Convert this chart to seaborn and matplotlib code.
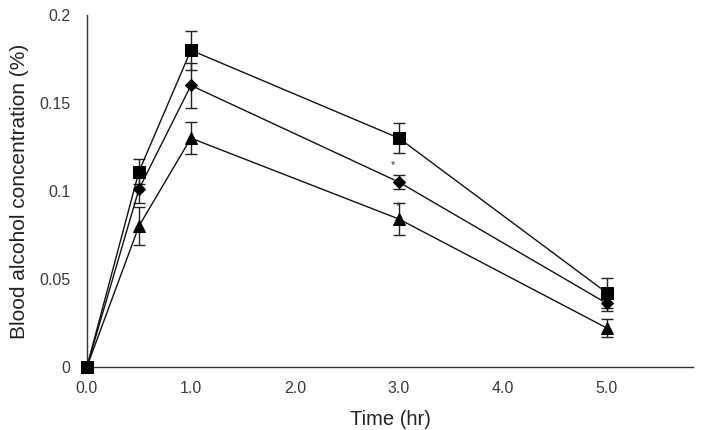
import numpy as np
import pandas as pd
import seaborn as sns
import matplotlib.pyplot as plt

# data
time = [0.0, 0.5, 1.0, 3.0, 5.0]
square = [0.0, 0.111, 0.180, 0.130, 0.042]
square_err = [0.0, 0.007, 0.011, 0.0085, 0.0085]
diamond = [0.0, 0.101, 0.160, 0.105, 0.036]
diamond_err = [0.0, 0.008, 0.013, 0.004, 0.004]
triangle = [0.0, 0.080, 0.130, 0.084, 0.022]
triangle_err = [0.0, 0.011, 0.009, 0.009, 0.005]
xticks = [0.0, 1.0, 2.0, 3.0, 4.0, 5.0]
yticks = [0, 0.05, 0.1, 0.15, 0.2]
ytick_labels = ["0", "0.05", "0.1", "0.15", "0.2"]
stars = [(2.94, 0.1145), (2.99, 0.0915)]

sns.set_style("white")
plt.rcParams['font.family'] = ['Liberation Sans', 'DejaVu Sans']

fig = plt.figure(figsize=(7.01, 4.30), dpi=100)
ax = fig.add_axes([0.124, 0.147, 0.865, 0.818])

series = [(square, square_err, 's', 8.5),
          (diamond, diamond_err, 'D', 6.5),
          (triangle, triangle_err, '^', 8.5)]

for vals, err, mk, ms in series:
    ax.errorbar(time, vals, yerr=err, fmt='none', ecolor='#222222',
                elinewidth=1, capsize=4, capthick=1, zorder=2)
    sns.lineplot(x=time, y=vals, ax=ax, color='#111111', linewidth=1,
                 marker=mk, markersize=ms, markeredgecolor='black',
                 markerfacecolor='black', zorder=3, clip_on=False)

for sx, sy in stars:
    ax.text(sx, sy, '*', fontsize=8, ha='center', va='center', color='#333333')

ax.set_xlim(0, 5.83)
ax.set_ylim(0, 0.2)
ax.set_xticks(xticks)
ax.set_xticklabels(['{:.1f}'.format(t) for t in xticks])
ax.set_yticks(yticks)
ax.set_yticklabels(ytick_labels)

for side in ['top', 'right']:
    ax.spines[side].set_visible(False)
for side in ['left', 'bottom']:
    ax.spines[side].set_color('#333333')
    ax.spines[side].set_linewidth(1)

ax.tick_params(axis='both', direction='out', length=5, width=1,
               color='#333333', labelsize=11.5, labelcolor='#3a3a3a')
ax.tick_params(axis='x', pad=5)
ax.tick_params(axis='y', pad=7)

ax.set_xlabel('Time (hr)', fontsize=14.5, color='#222222', labelpad=10)
ax.set_ylabel('Blood alcohol concentration (%)', fontsize=15, color='#222222', labelpad=7)

fig.savefig('out.png', dpi=100)
